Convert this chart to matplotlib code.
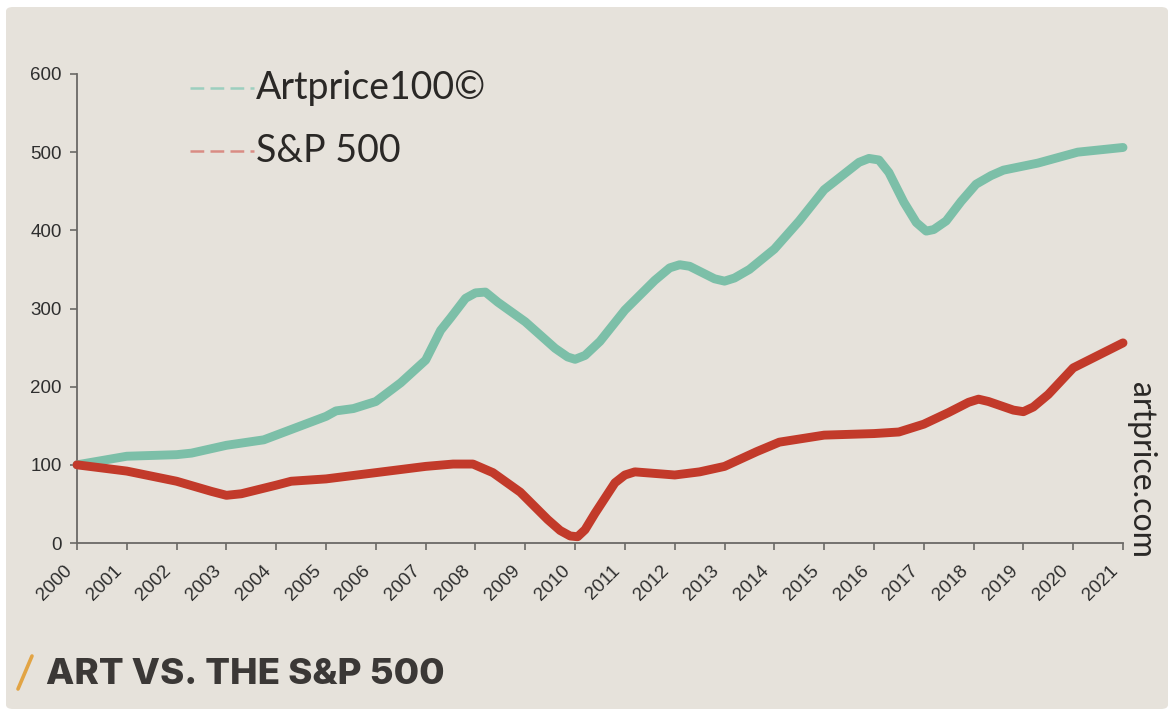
import matplotlib
matplotlib.use("Agg")
import matplotlib.pyplot as plt
from matplotlib.patches import FancyBboxPatch
from matplotlib.lines import Line2D
from matplotlib.transforms import ScaledTranslation

# values (index, 2000 = 100)
art_years = [2000, 2001, 2002, 2002.3, 2003, 2003.75, 2004, 2005, 2005.2, 2005.55,
             2006, 2006.5, 2007, 2007.3, 2007.5, 2007.8, 2008.0, 2008.2, 2008.45,
             2009, 2009.6, 2009.85, 2010, 2010.2, 2010.5, 2011, 2011.6, 2011.9,
             2012.1, 2012.3, 2012.8, 2013, 2013.2, 2013.5, 2014, 2014.5, 2015,
             2015.4, 2015.7, 2015.9, 2016.1, 2016.3, 2016.6, 2016.85, 2017.05,
             2017.2, 2017.45, 2017.75, 2018.05, 2018.35, 2018.6, 2019.29,
             2020.09, 2021]
art_vals = [100, 111, 113, 115, 125, 132, 138, 162, 169, 172,
            181, 205, 234, 272, 288, 313, 320, 321, 308,
            283, 249, 238, 235, 240, 258, 298, 336, 352,
            356, 354, 338, 335, 339, 350, 376, 412, 452,
            472, 487, 492, 490, 474, 436, 410, 399,
            401, 412, 437, 459, 470, 477, 486,
            500, 506]

sp_years = [2000, 2001, 2002, 2002.7, 2003, 2003.3, 2004, 2004.3, 2005, 2006,
            2007, 2007.55, 2007.95, 2008.35, 2008.9, 2009.45, 2009.7, 2009.9,
            2010.05, 2010.2, 2010.4, 2010.8, 2011.0, 2011.2, 2011.6, 2012,
            2012.5, 2013, 2013.65, 2014.1, 2015, 2016, 2016.5, 2017, 2017.5,
            2017.9, 2018.1, 2018.3, 2018.8, 2019.0, 2019.2, 2019.5, 2020, 2021]
sp_vals = [100, 92, 79, 66, 61, 63, 74, 79, 82, 90,
           98, 101, 101, 90, 65, 30, 16, 9,
           8, 17, 38, 77, 87, 91, 89, 87,
           91, 98, 117, 129, 138, 140, 142, 152, 167,
           180, 184, 181, 170, 168, 174, 190, 224, 256]

x_ticks = list(range(2000, 2022))
y_ticks = [0, 100, 200, 300, 400, 500, 600]

BG = "#e6e2db"
GREEN = "#7cbfa8"
RED = "#c23a2a"
TEXT = "#3b3836"

fig = plt.figure(figsize=(11.73, 7.15), dpi=100)
fig.patch.set_facecolor("white")
panel = FancyBboxPatch((6 / 1173, 6 / 715), 1162 / 1173, 702 / 715,
                       boxstyle="round,pad=0,rounding_size=0.006",
                       transform=fig.transFigure, facecolor=BG,
                       edgecolor="none", zorder=-5)
fig.patches.append(panel)

ax = fig.add_axes([77 / 1173, 1 - 543 / 715, 1046 / 1173, 469 / 715])
ax.set_facecolor("none")

ax.plot(art_years, art_vals, color=GREEN, lw=6.4, solid_capstyle="round",
        solid_joinstyle="round", clip_on=False, zorder=3)
ax.plot(sp_years, sp_vals, color=RED, lw=6.4, solid_capstyle="round",
        solid_joinstyle="round", clip_on=False, zorder=3)

ax.set_xlim(2000, 2021)
ax.set_ylim(0, 600)
ax.set_xticks(x_ticks)
ax.set_yticks(y_ticks)
ax.set_xticklabels([str(y) for y in x_ticks], rotation=45, ha="right",
                   va="top", rotation_mode="anchor", fontsize=13.5,
                   family="Liberation Sans", color="#2e2e2e")
ax.set_yticklabels([str(v) for v in y_ticks], fontsize=13.5,
                   family="Liberation Sans", color="#2e2e2e")
for s in ("top", "right"):
    ax.spines[s].set_visible(False)
for s in ("left", "bottom"):
    ax.spines[s].set_color("#6b6966")
    ax.spines[s].set_linewidth(1.3)
ax.tick_params(axis="both", colors="#6b6966", length=5, width=1.2)
ax.tick_params(axis="both", labelcolor="#2e2e2e")
ax.tick_params(axis="y", pad=6)
ax.tick_params(axis="x", pad=9)
shift = ScaledTranslation(-10 / 72, 0, fig.dpi_scale_trans)
for lab in ax.get_xticklabels():
    lab.set_transform(lab.get_transform() + shift)

# legend drawn by hand, as in the picture
leg_font = dict(family="Lato", fontsize=27, color="#2a2826", weight="normal")
for yy, col, lab in [(88, "#9ccfbf", "Artprice100©"), (151, "#d98c84", "S&P 500")]:
    fig.add_artist(Line2D([190 / 1173, 254 / 1173], [1 - yy / 715] * 2,
                          color=col, lw=1.8, dashes=(5.5, 2.5),
                          transform=fig.transFigure))
    fig.text(256 / 1173, 1 - yy / 715, lab, ha="left", va="center", **leg_font)

fig.text(1141 / 1173, 1 - 470 / 715, "artprice.com", rotation=-90,
         ha="center", va="center", family="Lato", weight="normal",
         fontsize=23, color="#2a2826")

# title with orange slash
fig.add_artist(Line2D([18 / 1173, 32 / 1173], [1 - 689 / 715, 1 - 656 / 715],
                      color="#e2a444", lw=2.6, solid_capstyle="round",
                      transform=fig.transFigure))
fig.text(46 / 1173, 1 - 674 / 715, "ART VS. THE S&P 500", ha="left",
         va="center", family="Inter", weight="heavy", fontsize=26.5,
         color=TEXT)

fig.savefig("out.png", dpi=100, facecolor=fig.get_facecolor())
